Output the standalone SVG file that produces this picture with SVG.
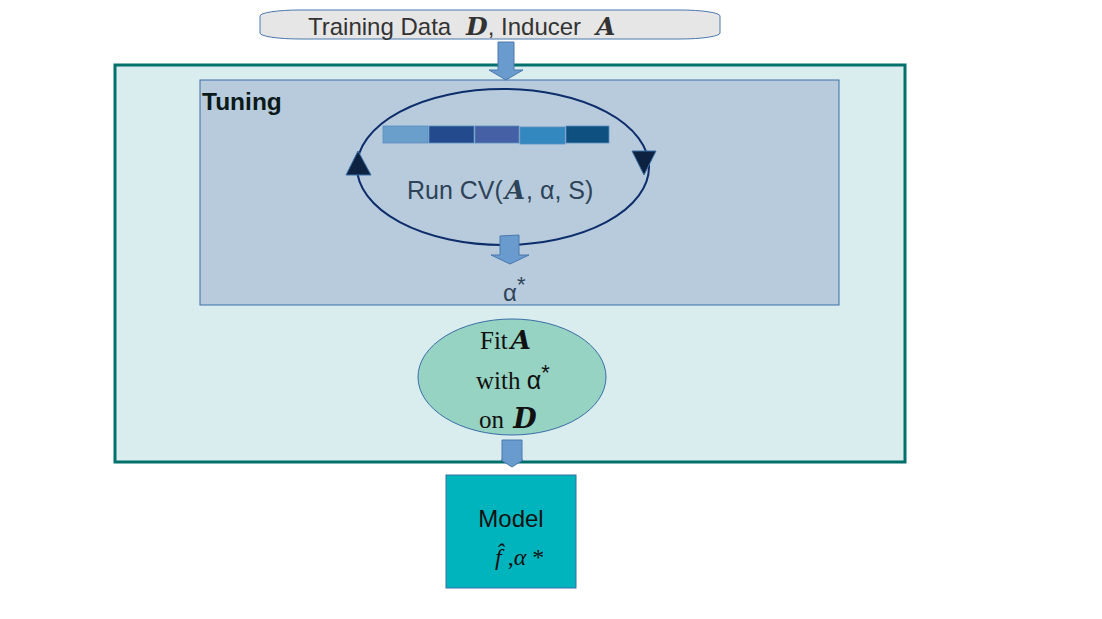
<svg xmlns="http://www.w3.org/2000/svg" width="1102" height="619" viewBox="0 0 1102 619">
<defs>
<style>
.sans{font-family:"Liberation Sans",Arial,sans-serif}
.serif{font-family:"Liberation Serif","DejaVu Serif",serif}
.mi{font-family:"DejaVu Serif","Liberation Serif",serif;font-style:italic;font-weight:bold}
.blockarrow{fill:#6a9bcf;stroke:#4a78ad;stroke-width:1}
.seg{stroke:#5a8fc0;stroke-width:0.8}
</style>
</defs>
<rect x="0" y="0" width="1102" height="619" fill="#ffffff"/>
<g id="input">
<rect x="260" y="10" width="460" height="29" rx="40" ry="6" fill="#e6e6e6" stroke="#4a78ad" stroke-width="1"/>
<text x="308" y="35" class="sans" font-size="24" fill="#333333">Training Data <tspan class="mi" font-size="25" x="466">D</tspan>, Inducer <tspan class="mi" font-size="25" x="596">A</tspan></text>
</g>
<g id="outer">
<rect x="115" y="65" width="790" height="397" fill="#d9ecee" stroke="#00706c" stroke-width="3"/>
</g>
<g id="tuning">
<rect x="200" y="80" width="639" height="225" fill="#b8cbdd" stroke="#3a6ea5" stroke-width="1"/>
<text x="202" y="110" class="sans" font-size="24.5" font-weight="bold" fill="#0a1a1a">Tuning</text>
</g>
<g id="cv-loop">
<ellipse cx="503" cy="167" rx="146" ry="78" fill="none" stroke="#0d2d6b" stroke-width="2"/>
<polygon points="358,151 346,175 371,175" fill="#0d2240" stroke="#3a6ea5" stroke-width="1"/>
<polygon points="632,151 656,151 644,175" fill="#0d2240" stroke="#3a6ea5" stroke-width="1"/>
<rect class="seg" x="383" y="126" width="45" height="17" fill="#6a9fcb"/>
<rect class="seg" x="429" y="126" width="45" height="17" fill="#234a8c"/>
<rect class="seg" x="475" y="126" width="44" height="17" fill="#4560a5"/>
<rect class="seg" x="520" y="127" width="45" height="17" fill="#3388c0"/>
<rect class="seg" x="566" y="126" width="43" height="17" fill="#0e5080"/>
<text x="407" y="199" class="sans" font-size="25" fill="#2e4358">Run CV(<tspan class="mi" font-size="26" dx="2">A</tspan><tspan dx="1">, α, S)</tspan></text>
</g>
<g id="alpha-star">
<text x="503" y="301" class="sans" font-size="24" fill="#2e4358">α<tspan font-size="22" dy="-9">*</tspan></text>
</g>
<g id="fit">
<ellipse cx="512" cy="377" rx="94" ry="58" fill="#96d3c3" stroke="#3a6ea5" stroke-width="1"/>
<text x="480" y="349" class="serif" font-size="25" fill="#111111">Fit<tspan class="mi" font-size="26" dx="3">A</tspan></text>
<text x="476" y="389" class="serif" font-size="25" fill="#111111">with <tspan class="sans" font-size="25">α</tspan><tspan class="sans" font-size="22" dy="-9">*</tspan></text>
<text x="479" y="428" class="serif" font-size="25" fill="#111111">on <tspan class="mi" font-size="27" dx="3">D</tspan></text>
</g>
<g id="model">
<rect x="446" y="475" width="130" height="113" fill="#00b4be" stroke="#3a6ea5" stroke-width="1"/>
<text x="511" y="527" class="sans" font-size="24" fill="#111111" text-anchor="middle">Model</text>
<text x="495" y="565" class="serif" font-size="24" fill="#111111"><tspan font-style="italic">f̂</tspan> ,<tspan font-style="italic">α</tspan> *</text>
</g>
<g id="connectors">
<polygon class="blockarrow" points="498,42 514,42 514,70 523,70 506,80 489,70 498,70"/>
<polygon class="blockarrow" points="500,236 519,235 519,255 529,255 510,264 491,255 500,255"/>
<polygon class="blockarrow" points="502,440 522,440 522,460 523,460 512,467 501,460 502,460"/>
</g>
</svg>
